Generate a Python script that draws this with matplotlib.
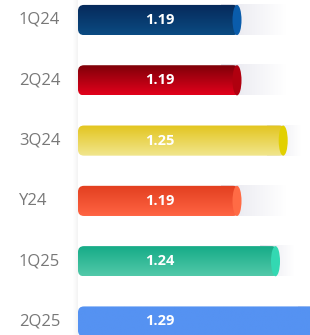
import numpy as np
import matplotlib

matplotlib.use("Agg")
import matplotlib.pyplot as plt
from matplotlib.patches import FancyBboxPatch, Ellipse, Rectangle
from matplotlib.colors import LinearSegmentedColormap
import matplotlib.transforms as mtransforms

# ---- data ----
periods = ["1Q24", "2Q24", "3Q24", "Y24", "1Q25", "2Q25"]
values = [1.19, 1.19, 1.25, 1.19, 1.24, 1.29]
top_colors = ["#06295a", "#7c0008", "#e3c51e", "#e23f1f", "#14aa86", "#5592f2"]
bottom_colors = ["#0b4b82", "#e2001b", "#f1e68e", "#ff6443", "#52c9a9", "#5592f2"]
cap_colors = ["#0a5cab", "#b0000f", "#e2d000", "#ff6b45", "#33d8b2", "#5592f2"]

# ---- scale (axis does not start at zero) ----
W, H = 310, 335
px_per_unit = 770.0
left_px = 78
base = 1.19 - 163 / px_per_unit          # value at the bar's left edge
xmin = base - left_px / px_per_unit
xmax = base + (W - left_px) / px_per_unit
row_px = 60.3
first_px = 20
ymin = -first_px / row_px
ymax = (H - first_px) / row_px
bar_h = 0.5
track_end = base + 208 / px_per_unit

fig = plt.figure(figsize=(W / 100, H / 100), dpi=100)
ax = fig.add_axes([0, 0, 1, 1])
ax.set_xlim(xmin, xmax)
ax.set_ylim(ymax, ymin)
ax.axis("off")

ux = 1 / px_per_unit     # one pixel in x data units
uy = 1 / row_px          # one pixel in y data units

# soft shadow along the left edge of the bars
shade = np.linspace(0, 1, 50)[None, :]
scmap = LinearSegmentedColormap.from_list("s", ["#ffffff", "#f3f3f3"])
ax.imshow(shade, extent=[base - 5 * ux, base, ymax, ymin], cmap=scmap,
          aspect="auto", zorder=0, interpolation="bilinear")

for i, (p, v) in enumerate(zip(periods, values)):
    y0 = i - bar_h / 2
    end = v
    # light track behind bar, fading to white
    t_end = max(track_end, end + 14 * ux)
    track = np.linspace(1, 0, 200)[None, :]
    tcmap = LinearSegmentedColormap.from_list("t", ["#ffffff", "#e6e6ee"])
    ax.imshow(track, extent=[end - 20 * ux, t_end, y0 + bar_h, y0], cmap=tcmap,
              aspect="auto", zorder=1, vmin=0, vmax=1, interpolation="bilinear")

    # bar body with vertical gradient, rounded left end
    cmap = LinearSegmentedColormap.from_list("g", [top_colors[i], bottom_colors[i]])
    grad = np.linspace(0, 1, 100)[:, None]
    im = ax.imshow(grad, extent=[base, end, y0 + bar_h, y0], cmap=cmap,
                   aspect="auto", zorder=2, interpolation="bilinear")
    r = 6 * ux
    clip = FancyBboxPatch((base, y0), end - base - 2 * ux, bar_h,
                          boxstyle=f"round,pad=0,rounding_size={r}",
                          mutation_aspect=uy / ux, transform=ax.transData,
                          facecolor="none", edgecolor="none")
    ax.add_patch(clip)
    im.set_clip_path(clip)

    # right end cap
    ax.add_patch(Ellipse((end - 4 * ux, i), 9 * ux, bar_h, facecolor=cap_colors[i],
                         edgecolor="none", zorder=3))

    # labels
    trans = mtransforms.blended_transform_factory(ax.transAxes, ax.transData)
    ax.text(19 / W, i, p, transform=trans, ha="left", va="center",
            fontsize=12, color="#787878", family="Open Sans")
    ax.text(160 / W, i, f"{v:.2f}", transform=trans, ha="center", va="center",
            fontsize=10.5, color="white", fontweight="bold", family="Open Sans",
            zorder=4)

fig.savefig("out.png", dpi=100)
